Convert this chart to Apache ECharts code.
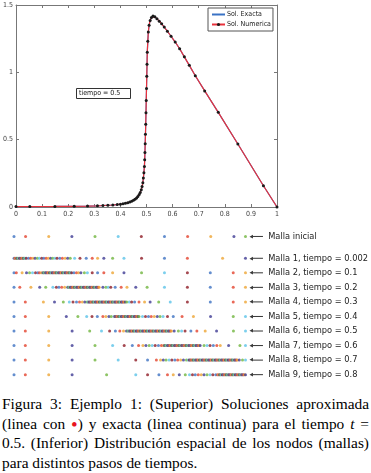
<!DOCTYPE html>
<html>
<head>
<meta charset="utf-8">
<script src="https://cdn.jsdelivr.net/npm/echarts@6/dist/echarts.min.js"></script>
<style>
  body { margin: 0; background: #fff; }
  #chart { width: 371px; height: 394px; }
  #caption { width: 367px; padding-left: 2px; font-family: "Liberation Serif", serif; font-size: 15.4px; line-height: 19.5px; color: #000; }
  #caption .j { text-align: justify; text-align-last: justify; }
  #caption .punto { color: #e8141e; font-size: 19px; line-height: 0; vertical-align: -2px; }
</style>
</head>
<body>
<div id="chart"></div>
<div id="caption">
  <div class="j">Figura 3: Ejemplo 1: (Superior) Soluciones aproximada</div>
  <div class="j">(linea con <span class="punto">•</span>) y exacta (linea continua) para el tiempo <i>t</i> =</div>
  <div class="j">0.5. (Inferior) Distribución espacial de los nodos (mallas)</div>
  <div>para distintos pasos de tiempos.</div>
</div>
<script>
// solucion en tiempo = 0.5 (nodos de la malla y valores)
const xNodos = [0, 0.053, 0.149, 0.223, 0.274, 0.312, 0.333, 0.352, 0.371, 0.388, 0.400, 0.410, 0.419, 0.428, 0.436, 0.443, 0.450, 0.456, 0.462, 0.467, 0.472, 0.476, 0.480, 0.483, 0.486, 0.488, 0.490, 0.492, 0.493, 0.494, 0.495, 0.496, 0.497, 0.498, 0.499, 0.500, 0.501, 0.502, 0.503, 0.505, 0.507, 0.510, 0.514, 0.519, 0.525, 0.532, 0.540, 0.549, 0.558, 0.568, 0.580, 0.594, 0.610, 0.627, 0.645, 0.664, 0.687, 0.723, 0.775, 0.850, 0.948, 1]
const uNumerica = [0.003, 0.003, 0.004, 0.005, 0.007, 0.009, 0.011, 0.013, 0.015, 0.018, 0.021, 0.024, 0.028, 0.032, 0.037, 0.043, 0.050, 0.058, 0.067, 0.078, 0.092, 0.108, 0.128, 0.152, 0.180, 0.215, 0.255, 0.300, 0.350, 0.405, 0.470, 0.540, 0.615, 0.700, 0.790, 0.880, 0.970, 1.060, 1.150, 1.230, 1.300, 1.350, 1.385, 1.408, 1.418, 1.412, 1.398, 1.380, 1.360, 1.336, 1.305, 1.268, 1.225, 1.175, 1.115, 1.052, 0.975, 0.862, 0.703, 0.468, 0.158, 0]
// a esta escala la exacta coincide con la numerica
const uExacta = uNumerica

// mallas (posiciones de los nodos)
const mallaInicial = [0, 0.05, 0.15, 0.25, 0.35, 0.45, 0.55, 0.65, 0.75, 0.85, 0.95, 1]
const malla1 = [0, 0.004, 0.008, 0.012, 0.016, 0.020, 0.024, 0.028, 0.032, 0.036, 0.040, 0.044, 0.048,
  0.053, 0.063, 0.072, 0.082, 0.091, 0.101, 0.110, 0.120, 0.129, 0.139, 0.148, 0.158, 0.167, 0.177, 0.186, 0.198, 0.209, 0.221, 0.232, 0.243, 0.262, 0.285, 0.312, 0.338, 0.361, 0.388, 0.426, 0.475, 0.551, 0.650, 0.749, 0.901, 1]
const malla2 = [0, 0.010, 0.035, 0.054, 0.067, 0.080, 0.093, 0.103, 0.110, 0.118,
  0.125, 0.129, 0.133, 0.137, 0.141, 0.145, 0.149, 0.153, 0.157, 0.161, 0.165, 0.169, 0.173, 0.177, 0.181, 0.185, 0.189, 0.193, 0.197, 0.201, 0.205, 0.209, 0.213, 0.217, 0.221, 0.225, 0.229, 0.233, 0.237, 0.241, 0.245, 0.249,
  0.259, 0.270, 0.279, 0.289, 0.304, 0.317, 0.338, 0.361, 0.388, 0.426, 0.475, 0.551, 0.650, 0.749, 0.848, 0.947, 1]
const malla3 = [0, 0.025, 0.073, 0.111, 0.137, 0.168, 0.183, 0.194, 0.206, 0.219,
  0.232, 0.236, 0.240, 0.244, 0.248, 0.252, 0.256, 0.260, 0.264, 0.268, 0.272, 0.276, 0.280, 0.284, 0.288, 0.292, 0.296, 0.300, 0.304, 0.308, 0.312, 0.316, 0.320, 0.324, 0.328, 0.332, 0.336, 0.340, 0.344, 0.348, 0.352, 0.356, 0.360, 0.364, 0.368,
  0.384, 0.397, 0.407, 0.418, 0.437, 0.463, 0.488, 0.526, 0.575, 0.650, 0.749, 0.848, 0.947, 1]
const malla4 = [0, 0.049, 0.127, 0.175, 0.213, 0.239, 0.255, 0.270, 0.283, 0.295, 0.306,
  0.316, 0.320, 0.324, 0.328, 0.332, 0.336, 0.340, 0.344, 0.348, 0.352, 0.356, 0.360, 0.364, 0.368, 0.372, 0.376, 0.380, 0.384, 0.388, 0.392, 0.396, 0.400, 0.404, 0.408, 0.412, 0.416, 0.420, 0.424, 0.428, 0.432, 0.436, 0.440, 0.444, 0.448, 0.452, 0.456, 0.460, 0.464, 0.468, 0.472, 0.476, 0.480,
  0.487, 0.498, 0.508, 0.521, 0.540, 0.564, 0.588, 0.625, 0.675, 0.749, 0.848, 0.947, 1]
const malla5 = [0, 0.049, 0.150, 0.226, 0.276, 0.314, 0.337, 0.360, 0.384, 0.397, 0.410, 0.420,
  0.432, 0.436, 0.440, 0.444, 0.448, 0.452, 0.456, 0.460, 0.464, 0.468, 0.472, 0.476, 0.480, 0.484, 0.488, 0.492, 0.496, 0.500, 0.504, 0.508, 0.512, 0.516, 0.520, 0.524, 0.528, 0.532, 0.536, 0.540,
  0.555, 0.568, 0.581, 0.593, 0.606, 0.619, 0.631, 0.644, 0.663, 0.688, 0.726, 0.775, 0.849, 0.947, 1]
const malla6 = [0, 0.049, 0.150, 0.251, 0.327, 0.378, 0.413, 0.438, 0.457, 0.473, 0.486,
  0.492, 0.496, 0.500, 0.504, 0.508, 0.512, 0.516, 0.520, 0.524, 0.528, 0.532, 0.536, 0.540, 0.544, 0.548, 0.552, 0.556, 0.560, 0.564, 0.568, 0.572, 0.576, 0.580, 0.584, 0.588, 0.592, 0.596, 0.600, 0.604, 0.608, 0.612, 0.616, 0.620, 0.624, 0.628, 0.632, 0.636, 0.640, 0.644, 0.648, 0.652, 0.656, 0.660, 0.664, 0.668, 0.672, 0.676, 0.680,
  0.692, 0.710, 0.724, 0.739, 0.764, 0.790, 0.826, 0.875, 0.948, 1]
const malla7 = [0, 0.049, 0.150, 0.251, 0.350, 0.426, 0.476, 0.511, 0.538, 0.557, 0.570, 0.584, 0.597, 0.610, 0.624, 0.637,
  0.646, 0.650, 0.655, 0.659, 0.664, 0.668, 0.672, 0.677, 0.681, 0.686, 0.690, 0.694, 0.699, 0.703, 0.708, 0.712, 0.716, 0.721, 0.725, 0.730, 0.734, 0.738, 0.743, 0.747, 0.752, 0.756, 0.760, 0.765, 0.769, 0.774, 0.778, 0.782, 0.787, 0.791, 0.796, 0.800, 0.804,
  0.821, 0.834, 0.847, 0.861, 0.876, 0.891, 0.927, 0.976, 1]
const malla8 = [0, 0.049, 0.150, 0.251, 0.350, 0.450, 0.526, 0.577, 0.615, 0.633, 0.645, 0.657, 0.670, 0.682, 0.695, 0.707, 0.720, 0.732, 0.745,
  0.753, 0.757, 0.761, 0.765, 0.769, 0.773, 0.777, 0.781, 0.785, 0.789, 0.793, 0.797, 0.801, 0.805, 0.809, 0.813, 0.817, 0.821, 0.825, 0.829, 0.833, 0.837, 0.841, 0.845, 0.849, 0.853, 0.857, 0.861, 0.865, 0.869, 0.873, 0.877, 0.881, 0.885, 0.889, 0.893, 0.897, 0.901, 0.905, 0.909, 0.913, 0.917, 0.921, 0.925, 0.929, 0.933, 0.937, 0.941, 0.945, 0.949, 0.953, 0.957, 0.961, 0.965,
  0.973, 0.987, 1]
const malla9 = [0, 0.049, 0.150, 0.251, 0.400, 0.526, 0.577, 0.626, 0.663, 0.688, 0.714, 0.740, 0.758, 0.771, 0.783, 0.796, 0.809, 0.821, 0.834, 0.847, 0.859, 0.872,
  0.880, 0.884, 0.888, 0.892, 0.896, 0.900, 0.904, 0.908, 0.912, 0.916, 0.920, 0.924, 0.928, 0.932, 0.936, 0.940, 0.944, 0.948, 0.952, 0.956, 0.960, 0.964, 0.968, 0.972, 0.976, 0.980, 0.984, 0.988, 0.992, 0.996, 1]

const mallas = [mallaInicial, malla1, malla2, malla3, malla4, malla5, malla6, malla7, malla8, malla9]
const mallaNombres = ['Malla inicial', 'Malla 1, tiempo = 0.002', 'Malla 2, tiempo = 0.1', 'Malla 3, tiempo = 0.2',
  'Malla 4, tiempo = 0.3', 'Malla 5, tiempo = 0.4', 'Malla 6, tiempo = 0.5', 'Malla 7, tiempo = 0.6',
  'Malla 8, tiempo = 0.7', 'Malla 9, tiempo = 0.8']
// fila de cada malla en el eje vertical de abajo
const mallaFilas = [10.5, 9, 8, 7, 6, 5, 4, 3, 2, 1]

const colores = ['#3d72c2', '#e4432e', '#eea534', '#3f3b94', '#70b53e', '#5bc3e8', '#8e1c26']
const fuente = '"Liberation Sans Narrow", "DejaVu Sans Condensed", "Liberation Sans", sans-serif'

const chart = echarts.init(document.getElementById('chart'))

const ejeCaja = {
  min: 0,
  axisLine: { onZero: false, lineStyle: { color: '#777', width: 1 } },
  axisTick: { inside: true, length: 3, lineStyle: { color: '#777' } },
  splitLine: { show: false }
}

const seriesMallas = mallas.map((m, i) => ({
  name: mallaNombres[i],
  type: 'scatter',
  xAxisIndex: 2,
  yAxisIndex: 2,
  symbolSize: 3,
  silent: true,
  itemStyle: { color: (p) => colores[p.dataIndex % colores.length], opacity: 0.8 },
  data: m.map((x) => [x, mallaFilas[i]])
}))

chart.setOption({
  animation: false,
  textStyle: { fontFamily: fuente },
  title: {
    text: 'tiempo = 0.5',
    left: 76,
    top: 88,
    padding: [2, 10, 2, 3],
    borderWidth: 1,
    borderColor: '#333',
    textStyle: { fontSize: 7, fontWeight: 'normal', color: '#222', fontFamily: fuente }
  },
  legend: {
    left: 208,
    top: 8,
    orient: 'vertical',
    data: [
      { name: 'Sol. Exacta', itemStyle: { opacity: 0 } },
      { name: 'Sol. Numerica' }
    ],
    itemWidth: 13,
    itemHeight: 4,
    itemGap: 3,
    padding: [3, 2, 3, 3],
    borderColor: '#555',
    borderWidth: 1,
    backgroundColor: '#fff',
    textStyle: { fontSize: 7, color: '#222', fontFamily: fuente, padding: [0, 0, 0, -3] }
  },
  grid: [
    { left: 13, top: 5, width: 264, height: 202 },
    { left: 14, top: 221.9, width: 263, height: 167.3 }
  ],
  xAxis: [
    Object.assign({}, ejeCaja, {
      type: 'value', gridIndex: 0, position: 'bottom', max: 1, interval: 0.1,
      axisLabel: { fontSize: 7, color: '#444', margin: 4 }
    }),
    Object.assign({}, ejeCaja, {
      type: 'value', gridIndex: 0, position: 'top', max: 1, interval: 0.1,
      axisLabel: { show: false }
    }),
    { type: 'value', gridIndex: 1, min: 0, max: 1, show: false }
  ],
  yAxis: [
    Object.assign({}, ejeCaja, {
      type: 'value', gridIndex: 0, position: 'left', max: 1.5, interval: 0.5,
      axisLabel: { fontSize: 7, color: '#444', margin: 3 }
    }),
    Object.assign({}, ejeCaja, {
      type: 'value', gridIndex: 0, position: 'right', max: 1.5, interval: 0.5,
      axisLabel: { show: false }
    }),
    {
      type: 'value', gridIndex: 1, position: 'right', min: 0, max: 11.5, interval: 0.5,
      axisLine: { show: false }, axisTick: { show: false }, splitLine: { show: false },
      axisLabel: {
        margin: 4,
        fontSize: 9.2,
        color: '#222',
        formatter: (v) => {
          const i = mallaFilas.indexOf(v)
          return i < 0 ? '' : '{h|◀}{s|}  ' + mallaNombres[i]
        },
        rich: {
          h: { fontSize: 5, color: '#333' },
          s: { width: 10, height: 1, backgroundColor: '#333' }
        }
      }
    }
  ],
  series: [
    {
      name: 'Sol. Exacta',
      type: 'line',
      xAxisIndex: 0,
      yAxisIndex: 0,
      symbol: 'none',
      lineStyle: { color: '#3a72c4', width: 1.2 },
      itemStyle: { color: '#3a72c4' },
      data: xNodos.map((x, i) => [x, uExacta[i]])
    },
    {
      name: 'Sol. Numerica',
      type: 'line',
      xAxisIndex: 0,
      yAxisIndex: 0,
      symbol: 'circle',
      symbolSize: 3,
      showAllSymbol: true,
      lineStyle: { color: '#e8323c', width: 1.2 },
      itemStyle: { color: '#1a1a1a' },
      data: xNodos.map((x, i) => [x, uNumerica[i]])
    }
  ].concat(seriesMallas)
})
</script>
</body>
</html>
